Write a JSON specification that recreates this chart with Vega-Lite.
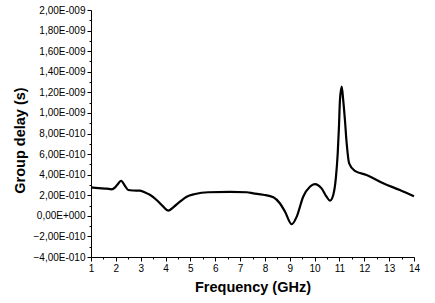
{
  "$schema": "https://vega.github.io/schema/vega-lite/v6.json",
  "autosize": {"type": "none"},
  "padding": {"left": 91, "top": 10, "right": 21, "bottom": 46},
  "width": 323,
  "height": 247,
  "background": "white",
  "config": {"view": {"stroke": null}},
  "data": {"values": [
    {"f": 1.0, "d": 2.77e-10}, {"f": 1.3, "d": 2.70e-10}, {"f": 1.63, "d": 2.64e-10}, {"f": 1.83, "d": 2.58e-10},
    {"f": 1.97, "d": 2.77e-10}, {"f": 2.1, "d": 3.15e-10}, {"f": 2.21, "d": 3.41e-10}, {"f": 2.37, "d": 2.90e-10},
    {"f": 2.5, "d": 2.51e-10}, {"f": 2.7, "d": 2.46e-10}, {"f": 2.97, "d": 2.44e-10}, {"f": 3.2, "d": 2.25e-10},
    {"f": 3.37, "d": 2.05e-10}, {"f": 3.64, "d": 1.54e-10}, {"f": 3.91, "d": 0.89e-10}, {"f": 4.11, "d": 0.50e-10},
    {"f": 4.31, "d": 0.83e-10}, {"f": 4.58, "d": 1.37e-10}, {"f": 4.85, "d": 1.86e-10}, {"f": 5.19, "d": 2.12e-10},
    {"f": 5.72, "d": 2.29e-10}, {"f": 6.59, "d": 2.32e-10}, {"f": 7.27, "d": 2.29e-10}, {"f": 7.53, "d": 2.19e-10},
    {"f": 7.93, "d": 2.05e-10}, {"f": 8.34, "d": 1.80e-10}, {"f": 8.6, "d": 1.22e-10}, {"f": 8.81, "d": 0.40e-10},
    {"f": 9.08, "d": -0.82e-10}, {"f": 9.28, "d": -0.08e-10}, {"f": 9.54, "d": 1.86e-10}, {"f": 9.81, "d": 2.83e-10},
    {"f": 10.01, "d": 3.09e-10}, {"f": 10.28, "d": 2.67e-10}, {"f": 10.48, "d": 1.86e-10}, {"f": 10.62, "d": 1.47e-10},
    {"f": 10.75, "d": 2.02e-10}, {"f": 10.86, "d": 3.80e-10}, {"f": 10.93, "d": 6.08e-10}, {"f": 10.98, "d": 8.66e-10},
    {"f": 11.02, "d": 11.26e-10}, {"f": 11.09, "d": 12.55e-10}, {"f": 11.15, "d": 11.26e-10}, {"f": 11.22, "d": 9.31e-10},
    {"f": 11.29, "d": 7.05e-10}, {"f": 11.39, "d": 5.10e-10}, {"f": 11.62, "d": 4.36e-10}, {"f": 12.09, "d": 3.97e-10},
    {"f": 12.76, "d": 3.16e-10}, {"f": 13.43, "d": 2.51e-10}, {"f": 14.0, "d": 1.90e-10}
  ]},
  "mark": {"type": "line", "color": "black", "strokeWidth": 2.2, "interpolate": "monotone"},
  "encoding": {
    "x": {
      "field": "f", "type": "quantitative",
      "scale": {"domain": [1, 14], "nice": false, "zero": false},
      "axis": {
        "title": "Frequency (GHz)",
        "values": [1,1.5,2,2.5,3,3.5,4,4.5,5,5.5,6,6.5,7,7.5,8,8.5,9,9.5,10,10.5,11,11.5,12,12.5,13,13.5,14],
        "labelExpr": "datum.value % 1 == 0 ? format(datum.value, 'd') : ''",
        "tickSize": {"condition": {"test": "datum.value % 1 == 0", "value": 4}, "value": 2},
        "grid": false,
        "domainColor": "black", "tickColor": "black",
        "labelFont": "Liberation Sans", "labelFontSize": 10, "labelColor": "black", "labelPadding": 2,
        "labelFlush": false, "labelOverlap": false,
        "titleFont": "Liberation Sans", "titleFontSize": 14.5, "titleFontWeight": "bold", "titleColor": "black",
        "titlePadding": 7
      }
    },
    "y": {
      "field": "d", "type": "quantitative",
      "scale": {"domain": [-4e-10, 2e-9], "nice": false, "zero": false},
      "axis": {
        "title": "Group delay (s)",
        "values": [-4e-10,-3e-10,-2e-10,-1e-10,0,1e-10,2e-10,3e-10,4e-10,5e-10,6e-10,7e-10,8e-10,9e-10,1e-9,1.1e-9,1.2e-9,1.3e-9,1.4e-9,1.5e-9,1.6e-9,1.7e-9,1.8e-9,1.9e-9,2e-9],
        "labelExpr": "round(datum.value*1e10) % 2 != 0 ? '' : (round(datum.value*1e10) == 0 ? '0,00E+000' : replace(format(datum.value / pow(10, floor(log(abs(datum.value))/LN10 + 1e-6)), '.2f'), '.', ',') + 'E' + (floor(log(abs(datum.value))/LN10 + 1e-6) < 0 ? '-' : '+') + pad('' + abs(floor(log(abs(datum.value))/LN10 + 1e-6)), 3, '0', 'left'))",
        "tickSize": {"condition": {"test": "round(datum.value*1e10) % 2 == 0", "value": 4}, "value": 2},
        "grid": false,
        "domainColor": "black", "tickColor": "black",
        "labelFont": "Liberation Sans", "labelFontSize": 10, "labelColor": "black", "labelPadding": 2,
        "labelFlush": false, "labelOverlap": false,
        "titleFont": "Liberation Sans", "titleFontSize": 14.5, "titleFontWeight": "bold", "titleColor": "black",
        "titlePadding": 6,
        "titleY": 130
      }
    }
  }
}
